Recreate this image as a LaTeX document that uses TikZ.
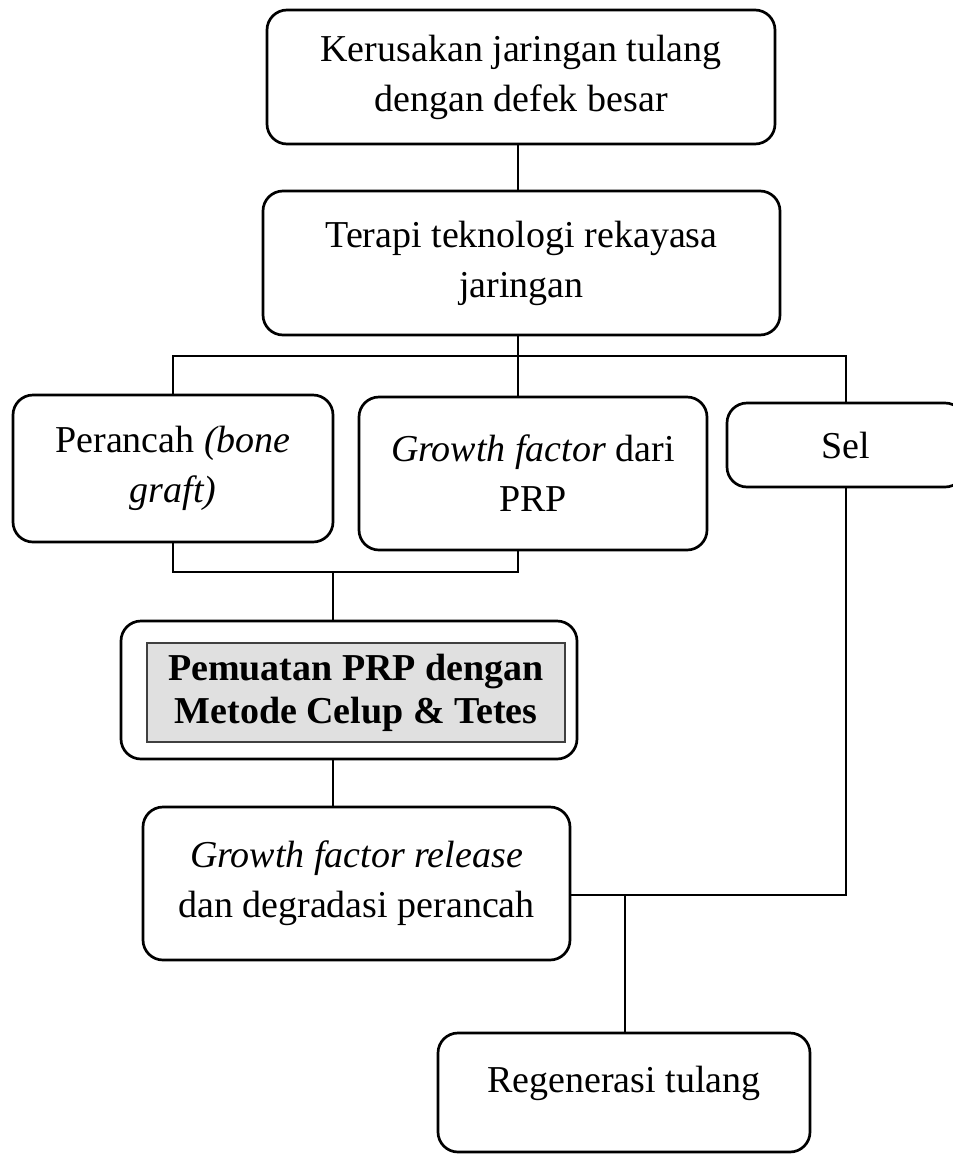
\documentclass[tikz,border=0pt]{standalone}
\usepackage{fontspec}
\setmainfont{Liberation Serif}
\begin{document}
\begin{tikzpicture}[x=1pt,y=-1pt,
  box/.style={draw, line width=2.7pt, rounded corners=20pt, align=center, inner sep=0pt,
    font=\fontsize{38}{50}\selectfont},
  graybox/.style={draw=black!75, line width=1.4pt, fill=black!12, align=center, inner sep=0pt,
    font=\fontsize{38}{43}\selectfont\bfseries},
  conn/.style={line width=2.7pt, line join=miter}]
\useasboundingbox (0,0) rectangle (953,1157);
\fill[white] (0,0) rectangle (953,1157);

\node[box, minimum width=508pt, minimum height=134pt] (b1) at (521,77)
  {Kerusakan jaringan tulang\\dengan defek besar};
\node[box, minimum width=517pt, minimum height=144pt] (b2) at (521.5,263)
  {Terapi teknologi rekayasa\\jaringan};
\node[box, minimum width=320pt, minimum height=147pt] (perancah) at (173,468.5)
  {Perancah \textit{(bone}\\\textit{graft)}};
\node[box, minimum width=348pt, minimum height=153pt] (gf) at (533,473.5)
  {\textit{Growth factor} dari\\PRP};
\node[box, minimum width=238pt, minimum height=84pt] (sel) at (846,445)
  {Sel};
\node[box, minimum width=456pt, minimum height=138pt] (pem) at (349,690) {};
\node[graybox, minimum width=418pt, minimum height=99pt] (pemtext) at (356,692.5)
  {Pemuatan PRP dengan\\Metode Celup \& Tetes};
\node[box, minimum width=427pt, minimum height=153pt] (rel) at (356.5,883.5)
  {\textit{Growth factor release}\\dan degradasi perancah};
\node[box, minimum width=372pt, minimum height=119pt, text depth=26pt] (reg) at (624,1092.5)
  {Regenerasi tulang};

\coordinate (busL) at (173,356);
\coordinate (busR) at (846,356);
\coordinate (jR) at (518,572);
\coordinate (jM) at (333,572);
\coordinate (k) at (846,895);
\coordinate (m) at (625,895);

\draw[conn] (b1.south -| jR) -- (b2.north -| jR);
\draw[conn] (perancah.north) -- (perancah.north |- busL) -- (sel.north |- busR) -- (sel.north);
\draw[conn] (b2.south -| jR) -- (gf.north -| jR);
\draw[conn] (perancah.south) |- (jR) -- (jR |- gf.south);
\draw[conn] (jM) -- (jM |- pem.north);
\draw[conn] (jM |- pem.south) -- (jM |- rel.north);
\draw[conn] (rel.east |- k) -- (k) -- (sel.south);
\draw[conn] (m) -- (m |- reg.north);
\end{tikzpicture}
\end{document}
